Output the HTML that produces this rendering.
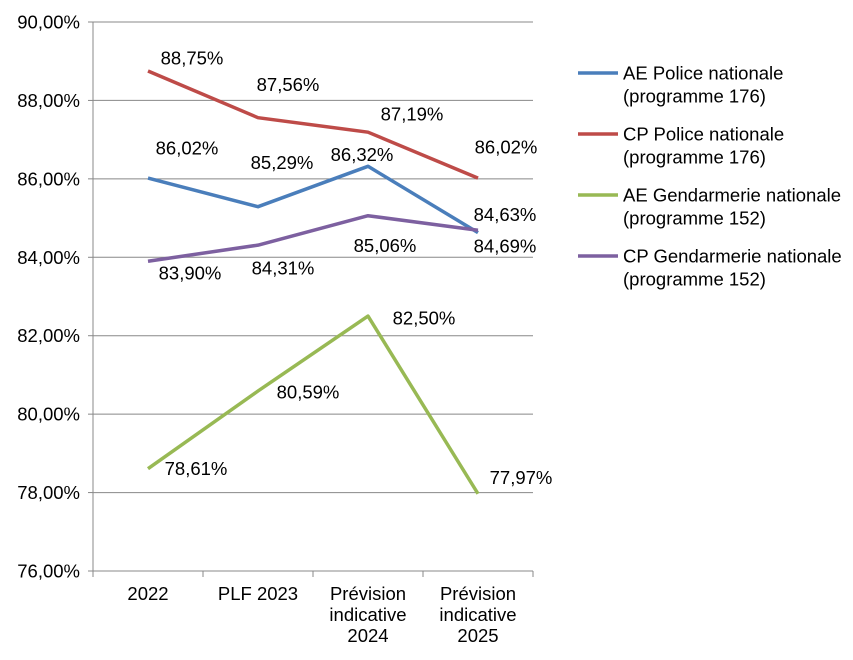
<!DOCTYPE html>
<html><head><meta charset="utf-8"><style>
body{margin:0;background:#fff;}
svg{display:block;font-family:"Liberation Sans",Arial,sans-serif;}
</style></head><body>
<svg id="chart" width="853" height="660"></svg>
<script>
const categories=[["2022"],["PLF 2023"],["Prévision","indicative","2024"],["Prévision","indicative","2025"]];
const yTicks=[76,78,80,82,84,86,88,90];
const seriesNames=[["AE Police nationale","(programme 176)"],["CP Police nationale","(programme 176)"],["AE Gendarmerie nationale","(programme 152)"],["CP Gendarmerie nationale","(programme 152)"]];
const aePolice=[86.02,85.29,86.32,84.63];
const cpPolice=[88.75,87.56,87.19,86.02];
const aeGend=[78.61,80.59,82.50,77.97];
const cpGend=[83.90,84.31,85.06,84.69];
const seriesValues=[aePolice,cpPolice,aeGend,cpGend];
const colors=["#4a7ebb","#be4b48","#98b954","#7d60a0"];
const labelOffsets=[[[39,-30],[24,-44],[-6,-12],[27,-18]],[[44,-13],[30,-33],[44,-18],[28,-31]],[[48,0],[50,1],[56,2],[43,-16]],[[42,12],[25,23],[17,30],[27,16]]];
const svg=document.getElementById('chart');const NS="http://www.w3.org/2000/svg";
const FS=18.5;
const x0=93,x1=533,yTop=22,yBot=571,yMin=76,yMax=90;
const xs=i=>x0+(i+0.5)*(x1-x0)/categories.length;
const ys=v=>yBot-(v-yMin)/(yMax-yMin)*(yBot-yTop);
function mk(t,a,p){const e=document.createElementNS(NS,t);for(const k in a)e.setAttribute(k,a[k]);(p||svg).appendChild(e);return e;}
const fmt=v=>v.toFixed(2).replace('.',',')+'%';
yTicks.forEach(t=>{
 if(t>yMin){const g=mk('line',{x1:x0,x2:x1,y1:ys(t),y2:ys(t),stroke:'#888','stroke-width':1});
 
 }
 const l=mk('text',{x:80,y:ys(t)+6.5,'text-anchor':'end','font-size':FS,fill:'#000'});l.textContent=fmt(t);
 
 
 mk('line',{x1:x0-5,x2:x0,y1:ys(t),y2:ys(t),stroke:'#888'});
});
mk('line',{x1:x0,x2:x0,y1:yTop,y2:yBot,stroke:'#888'});
mk('line',{x1:x0,x2:x1,y1:yBot,y2:yBot,stroke:'#888'});
for(let i=0;i<=categories.length;i++){const xx=x0+i*(x1-x0)/categories.length;mk('line',{x1:xx,x2:xx,y1:yBot,y2:yBot+6,stroke:'#888'});}
categories.forEach((c,i)=>{const t=mk('text',{x:xs(i),'text-anchor':'middle','font-size':FS,fill:'#000'});
 
 
 c.forEach((s,j)=>{const ts=mk('tspan',{x:xs(i),y:600+j*21},t);ts.textContent=s;});});
seriesValues.forEach((vals,si)=>{
 const p=mk('polyline',{points:vals.map((v,i)=>xs(i)+','+ys(v)).join(' '),fill:'none',stroke:colors[si],'stroke-width':3.5,'stroke-linejoin':'round'});
 
 
 vals.forEach((v,i)=>{const o=labelOffsets[si][i];const t=mk('text',{x:xs(i)+o[0],y:ys(v)+o[1]+6.5,'text-anchor':'middle','font-size':FS,fill:'#000'});t.textContent=fmt(v);
 
 });
 const ly=73+si*61;
 const ll=mk('line',{x1:578,x2:618,y1:ly,y2:ly,stroke:colors[si],'stroke-width':3.5});
 
 
 const lt=mk('text',{'font-size':FS,fill:'#000'});
 
 
 seriesNames[si].forEach((s,j)=>{const ts=mk('tspan',{x:623,y:ly+6.5+j*23},lt);ts.textContent=s;});
});
</script>
</body></html>
